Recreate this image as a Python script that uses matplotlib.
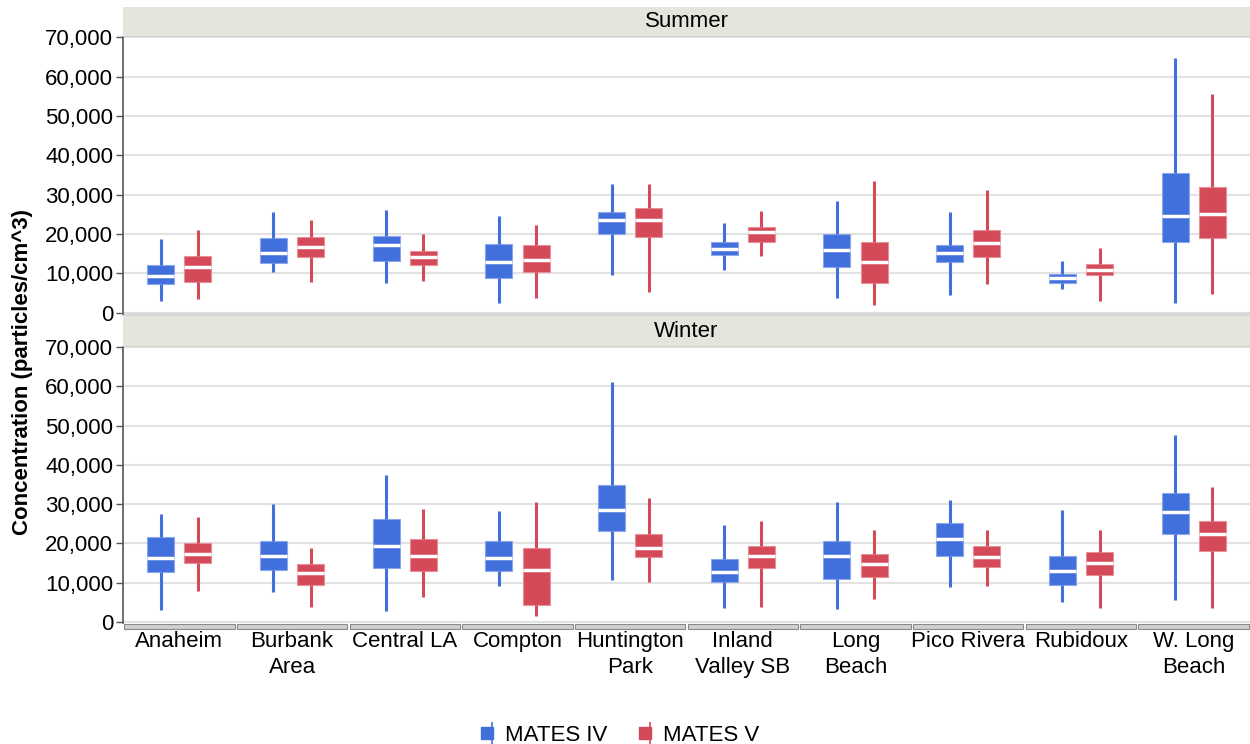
import matplotlib
matplotlib.use("Agg")
import matplotlib.pyplot as plt
import numpy as np
from matplotlib.lines import Line2D
from matplotlib.patches import Rectangle
from matplotlib.ticker import FuncFormatter
from matplotlib.legend_handler import HandlerTuple

plt.rcParams["font.family"] = ["Liberation Sans", "DejaVu Sans"]

sites = ["Anaheim", "Burbank\nArea", "Central LA", "Compton", "Huntington\nPark",
         "Inland\nValley SB", "Long\nBeach", "Pico Rivera", "Rubidoux", "W. Long\nBeach"]
series = ["MATES IV", "MATES V"]
seasons = ["Summer", "Winter"]

# box stats in thousands of particles/cm^3
summer_iv_low = [3.1, 10.4, 7.6, 2.5, 9.6, 10.9, 3.8, 4.5, 6.1, 2.5]
summer_iv_q1 = [7.3, 12.6, 13.2, 8.8, 20.1, 14.6, 11.6, 13.0, 7.6, 17.9]
summer_iv_med = [9.3, 15.2, 17.1, 12.8, 23.5, 16.3, 16.0, 15.3, 8.8, 24.6]
summer_iv_q3 = [12.2, 18.9, 19.4, 17.5, 25.7, 18.1, 20.0, 17.2, 9.8, 35.4]
summer_iv_high = [18.7, 25.7, 26.2, 24.6, 32.6, 22.9, 28.4, 25.7, 13.1, 64.8]

summer_v_low = [3.5, 7.9, 8.2, 3.7, 5.4, 14.3, 2.1, 7.3, 3.1, 4.8]
summer_v_q1 = [7.9, 14.1, 12.1, 10.4, 19.3, 17.9, 7.6, 14.1, 9.6, 18.9]
summer_v_med = [11.7, 16.6, 14.1, 13.5, 23.6, 20.6, 12.8, 17.6, 10.9, 25.0]
summer_v_q3 = [14.5, 19.2, 15.8, 17.2, 26.7, 21.7, 18.1, 21.0, 12.4, 31.9]
summer_v_high = [21.0, 23.5, 20.0, 22.3, 32.6, 25.8, 33.4, 31.1, 16.4, 55.6]

winter_iv_low = [2.9, 7.7, 2.7, 9.2, 10.7, 3.6, 3.3, 8.8, 5.0, 5.6]
winter_iv_q1 = [12.8, 13.3, 13.6, 12.9, 23.2, 10.1, 10.9, 16.7, 9.4, 22.3]
winter_iv_med = [16.2, 16.8, 19.4, 16.2, 28.4, 12.6, 16.7, 21.1, 13.0, 28.0]
winter_iv_q3 = [21.5, 20.7, 26.3, 20.7, 34.9, 16.0, 20.5, 25.1, 16.7, 32.9]
winter_iv_high = [27.4, 29.9, 37.5, 28.3, 61.2, 24.6, 30.5, 31.0, 28.5, 47.5]

winter_v_low = [7.9, 3.9, 6.4, 1.6, 10.2, 3.9, 5.8, 9.2, 3.6, 3.6]
winter_v_q1 = [14.9, 9.4, 12.9, 4.3, 16.4, 13.6, 11.3, 13.9, 11.9, 18.1]
winter_v_med = [17.4, 12.4, 16.8, 13.3, 18.7, 16.7, 14.7, 16.4, 15.0, 22.3]
winter_v_q3 = [20.1, 14.7, 21.0, 18.7, 22.4, 19.2, 17.3, 19.2, 17.8, 25.7]
winter_v_high = [26.8, 18.8, 28.8, 30.5, 31.5, 25.8, 23.3, 23.4, 23.4, 34.3]

data = {
    ("Summer", "MATES IV"): (summer_iv_low, summer_iv_q1, summer_iv_med, summer_iv_q3, summer_iv_high),
    ("Summer", "MATES V"): (summer_v_low, summer_v_q1, summer_v_med, summer_v_q3, summer_v_high),
    ("Winter", "MATES IV"): (winter_iv_low, winter_iv_q1, winter_iv_med, winter_iv_q3, winter_iv_high),
    ("Winter", "MATES V"): (winter_v_low, winter_v_q1, winter_v_med, winter_v_q3, winter_v_high),
}

colors = {"MATES IV": "#416fdc", "MATES V": "#d44a58"}
edges = {"MATES IV": "#8aa6ec", "MATES V": "#e8909a"}
offsets = {"MATES IV": -0.165, "MATES V": 0.165}

fig = plt.figure(figsize=(12.5, 7.44), dpi=100)

# axes rectangles in figure fractions
panel_rects = {"Summer": [0.0984, 0.578, 0.9016, 0.372],
               "Winter": [0.0984, 0.1626, 0.9016, 0.371]}
strip_h = 0.041

x = np.arange(len(sites))
axes = []
for season in seasons:
    ax = fig.add_axes(panel_rects[season])
    axes.append(ax)
    for s in series:
        lo, q1, med, q3, hi = data[(season, s)]
        stats = [dict(whislo=a * 1000, q1=b * 1000, med=c * 1000, q3=d * 1000, whishi=e * 1000, fliers=[])
                 for a, b, c, d, e in zip(lo, q1, med, q3, hi)]
        ax.bxp(stats, positions=x + offsets[s], widths=0.24, patch_artist=True,
               showcaps=False, showfliers=False, manage_ticks=False,
               boxprops=dict(facecolor=colors[s], edgecolor=edges[s], linewidth=0.8),
               whiskerprops=dict(color=colors[s], linewidth=2.2, solid_capstyle="butt"),
               medianprops=dict(color="white", linewidth=2.5),
               zorder=3)
    ax.set_xlim(-0.5, len(sites) - 0.5)
    ax.set_ylim(-300, 70000)
    ax.set_yticks(np.arange(0, 70001, 10000))
    ax.yaxis.set_major_formatter(FuncFormatter(lambda v, p: f"{v:,.0f}"))
    ax.tick_params(axis="y", labelsize=16, length=5, width=1, color="#555555", pad=2)
    ax.grid(axis="y", color="#e2e2e2", linewidth=1.5, zorder=0)
    ax.set_axisbelow(True)
    for sp in ["top", "right", "bottom"]:
        ax.spines[sp].set_visible(False)
    ax.spines["left"].set_color("#555555")
    ax.spines["left"].set_linewidth(1.2)
    ax.set_xticks([])

    # strip header
    r = panel_rects[season]
    strip = fig.add_axes([r[0], r[1] + r[3], r[2], strip_h])
    strip.set_facecolor("#e6e5dd")
    strip.set_xticks([])
    strip.set_yticks([])
    for sp in strip.spines.values():
        sp.set_visible(False)
    strip.axhline(0, color="#d0cfc6", linewidth=2)
    strip.text(0.5, 0.5, season, ha="center", va="center", fontsize=16, transform=strip.transAxes)

# gray line under summer panel
axes[0].axhline(-300, color="#d8d8d8", linewidth=2.5, zorder=1, clip_on=False)

# category tabs + labels under winter panel
axb = axes[1]
tr = axb.get_xaxis_transform()
for i, name in enumerate(sites):
    axb.add_patch(Rectangle((i - 0.49, -0.022), 0.98, 0.018, transform=tr, clip_on=False,
                            facecolor="#cfcfcf", edgecolor="#8a8a8a", linewidth=0.8))
    axb.text(i, -0.03, name, transform=tr, ha="center", va="top", fontsize=16,
             linespacing=1.3)

fig.text(0.018, 0.5, "Concentration (particles/cm^3)", rotation=90, ha="center", va="center",
         fontsize=16, fontweight="bold")

# legend
handles = []
for s in series:
    wh = Line2D([], [], marker="|", markersize=16, mew=1.2, color=colors[s], ls="")
    bx = Line2D([], [], marker="s", markersize=9, mfc=colors[s], mec=colors[s], ls="")
    handles.append((wh, bx))
fig.legend(handles, series, handler_map={tuple: HandlerTuple(ndivide=None, pad=-1.0)},
           loc="center", bbox_to_anchor=(0.497, 0.012), ncol=2, frameon=False,
           fontsize=16, handlelength=0.6, handletextpad=0.4, columnspacing=1.5)

fig.savefig("out.png", dpi=100)
